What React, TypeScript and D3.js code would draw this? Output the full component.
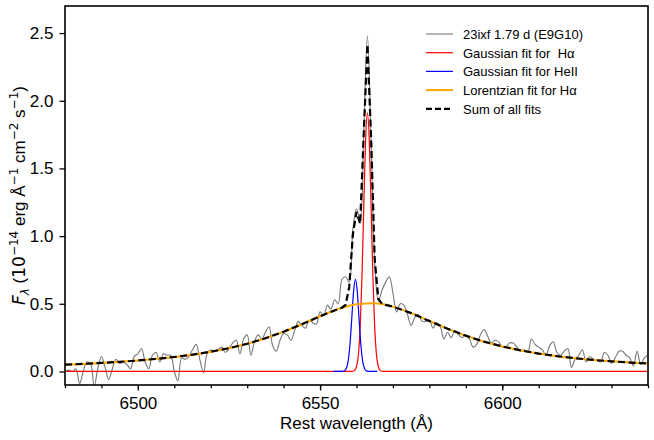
import { useEffect, useRef } from 'react';
import * as d3 from 'd3';

const WIDTH = 654;
const HEIGHT = 440;
const MARGIN = { top: 6, right: 6, bottom: 55, left: 65 };
const SANS = '"Liberation Sans", Arial, sans-serif';
const MATH = '"DejaVu Sans", sans-serif';

// observed spectrum, 1 Å bins starting at 6480 Å
const SPEC_START = 6480;
const specFlux = [
  0.0, 0.01, 0.0, 0.02, -0.09, 0.0, 0.07, 0.06, -0.11, 0.02,
  0.11, 0.03, -0.06, 0.02, 0.09, 0.06, 0.07, 0.05, 0.02, 0.11,
  0.13, 0.17, 0.07, 0.02, 0.12, 0.14, 0.07, 0.13, 0.12, 0.12,
  0.0, -0.07, 0.1, 0.09, 0.11, 0.16, 0.2, 0.09, -0.01, 0.13,
  0.16, 0.15, 0.16, 0.18, 0.14, 0.17, 0.21, 0.23, 0.13, 0.24,
  0.27, 0.12, 0.22, 0.27, 0.24, 0.29, 0.33, 0.19, 0.15, 0.23,
  0.28, 0.27, 0.23, 0.3, 0.37, 0.34, 0.32, 0.38, 0.36, 0.35,
  0.44, 0.41, 0.49, 0.46, 0.53, 0.5, 0.68, 0.7, 0.66, 1.05,
  1.2, 1.12, 1.78, 2.48, 1.7, 0.8, 0.52, 0.6, 0.66, 0.7,
  0.58, 0.44, 0.5, 0.49, 0.42, 0.34, 0.4, 0.42, 0.37, 0.37,
  0.38, 0.32, 0.36, 0.33, 0.24, 0.29, 0.25, 0.3, 0.27, 0.25,
  0.27, 0.24, 0.18, 0.2, 0.27, 0.31, 0.26, 0.21, 0.23, 0.22,
  0.18, 0.18, 0.21, 0.21, 0.18, 0.15, 0.16, 0.14, 0.24, 0.2,
  0.18, 0.16, 0.12, 0.19, 0.22, 0.14, 0.12, 0.15, 0.17, 0.03,
  0.09, 0.12, 0.16, 0.07, 0.11, 0.09, 0.08, 0.07, 0.14, 0.12,
  0.06, 0.1, 0.15, 0.15, 0.12, 0.1, 0.04, 0.15, 0.05, 0.1,
  0.12,
];
const specWave = specFlux.map((_, i) => SPEC_START + i);

// Lorentzian component (broad Hα)
const lorentzWave = [
  6480, 6485, 6490, 6495, 6500, 6505, 6510, 6515, 6520, 6525, 6530, 6535, 6540, 6545, 6550, 6555,
  6560, 6565, 6570, 6575, 6580, 6585, 6590, 6595, 6600, 6605, 6610, 6615, 6620, 6625, 6630, 6635, 6640,
];
const lorentzFlux = [
  0.05, 0.056, 0.063, 0.071, 0.081, 0.093, 0.107, 0.124, 0.146, 0.172, 0.205, 0.245, 0.294, 0.349, 0.408, 0.462,
  0.497, 0.504, 0.479, 0.431, 0.373, 0.315, 0.264, 0.22, 0.185, 0.156, 0.132, 0.113, 0.098, 0.085, 0.075, 0.066, 0.059,
];

// narrow Gaussian for Hα
const redWave = [
  6480, 6558, 6558.5, 6559, 6559.5, 6560, 6560.5, 6561, 6561.5, 6562, 6562.5, 6563,
  6563.5, 6564, 6564.5, 6565, 6565.5, 6566, 6566.5, 6567, 6567.5, 6568, 6640,
];
const redFlux = [
  0, 0, 0.0002, 0.0015, 0.0082, 0.0348, 0.118, 0.322, 0.701, 1.224, 1.71, 1.91,
  1.71, 1.224, 0.701, 0.322, 0.118, 0.0348, 0.0082, 0.0015, 0.0002, 0, 0,
];

// Gaussian for HeII
const blueWave = [
  6553.7, 6555.7, 6556.2, 6556.7, 6557.2, 6557.7, 6558.2, 6558.7, 6559.2, 6559.7,
  6560.2, 6560.7, 6561.2, 6561.7, 6562.2, 6562.7, 6563.2, 6563.7, 6565.7,
];
const blueFlux = [
  0, 0.0001, 0.0008, 0.0046, 0.0213, 0.074, 0.195, 0.391, 0.592, 0.68,
  0.592, 0.391, 0.195, 0.074, 0.0213, 0.0046, 0.0008, 0.0001, 0,
];

// sum of the three fits
const sumWave = [
  6480, 6485, 6490, 6495, 6500, 6505, 6510, 6515, 6520, 6525, 6530, 6535, 6540, 6545, 6550, 6555,
  6556, 6557, 6558, 6559, 6560, 6561, 6562, 6563, 6564, 6565, 6566, 6567, 6568,
  6570, 6575, 6580, 6585, 6590, 6595, 6600, 6605, 6610, 6615, 6620, 6625, 6630, 6635, 6640,
];
const sumFlux = [
  0.05, 0.056, 0.063, 0.071, 0.081, 0.093, 0.107, 0.124, 0.146, 0.172, 0.205, 0.245, 0.294, 0.349, 0.408, 0.462,
  0.471, 0.491, 0.623, 1.012, 1.179, 1.09, 1.764, 2.416, 1.729, 0.826, 0.536, 0.499, 0.492,
  0.479, 0.431, 0.373, 0.315, 0.264, 0.22, 0.185, 0.156, 0.132, 0.113, 0.098, 0.085, 0.075, 0.066, 0.059,
];

const xMajorTicks = [6500, 6550, 6600];
const xMinorTicks = [
  6480, 6490, 6500, 6510, 6520, 6530, 6540, 6550, 6560, 6570, 6580, 6590, 6600, 6610, 6620, 6630, 6640,
];
const yTicks = [0, 0.5, 1.0, 1.5, 2.0, 2.5];

const legendLabels = [
  '23ixf 1.79 d (E9G10)',
  'Gaussian fit for  Hα',
  'Gaussian fit for HeII',
  'Lorentzian fit for Hα',
  'Sum of all fits',
];
const legendStyles = [
  { color: '#777777', width: 1.1, dash: null },
  { color: 'red', width: 1.2, dash: null },
  { color: 'blue', width: 1.2, dash: null },
  { color: 'orange', width: 2, dash: null },
  { color: 'black', width: 2.2, dash: '6,3' },
];

type Pt = [number, number];
const zip = (xs: number[], ys: number[]): Pt[] => xs.map((v, i) => [v, ys[i]]);

export default function App() {
  const svgRef = useRef<SVGSVGElement>(null);

  useEffect(() => {
    document.body.style.margin = '0';
    if (!svgRef.current) return;
    const svg = d3.select(svgRef.current);
    svg.selectAll('*').remove();

    const innerWidth = WIDTH - MARGIN.left - MARGIN.right;
    const innerHeight = HEIGHT - MARGIN.top - MARGIN.bottom;

    const x = d3.scaleLinear().domain([6480, 6640]).range([0, innerWidth]);
    const y = d3.scaleLinear().domain([-0.1, 2.7]).range([innerHeight, 0]);

    svg
      .append('defs')
      .append('clipPath')
      .attr('id', 'plot-clip')
      .append('rect')
      .attr('width', innerWidth)
      .attr('height', innerHeight);

    const g = svg.append('g').attr('transform', `translate(${MARGIN.left},${MARGIN.top})`);
    const plot = g.append('g').attr('clip-path', 'url(#plot-clip)');

    const line = d3
      .line<Pt>()
      .x((d) => x(d[0]))
      .y((d) => y(d[1]));
    const smooth = d3
      .line<Pt>()
      .x((d) => x(d[0]))
      .y((d) => y(d[1]))
      .curve(d3.curveMonotoneX);
    const spectrumLine = d3
      .line<Pt>()
      .x((d) => x(d[0]))
      .y((d) => y(d[1]))
      .curve(d3.curveCatmullRom.alpha(0.5));

    plot
      .append('path')
      .datum(zip(specWave, specFlux))
      .attr('d', spectrumLine)
      .attr('fill', 'none')
      .attr('stroke', '#777777')
      .attr('stroke-width', 1.1)
      .attr('stroke-linejoin', 'round');

    plot
      .append('path')
      .datum(zip(redWave, redFlux))
      .attr('d', smooth)
      .attr('fill', 'none')
      .attr('stroke', 'red')
      .attr('stroke-width', 1.2);

    plot
      .append('path')
      .datum(zip(blueWave, blueFlux))
      .attr('d', smooth)
      .attr('fill', 'none')
      .attr('stroke', 'blue')
      .attr('stroke-width', 1.2);

    plot
      .append('path')
      .datum(zip(lorentzWave, lorentzFlux))
      .attr('d', smooth)
      .attr('fill', 'none')
      .attr('stroke', 'orange')
      .attr('stroke-width', 2);

    plot
      .append('path')
      .datum(zip(sumWave, sumFlux))
      .attr('d', line)
      .attr('fill', 'none')
      .attr('stroke', 'black')
      .attr('stroke-width', 2.2)
      .attr('stroke-dasharray', '7,3.5');

    // axes
    const minor = g
      .append('g')
      .attr('transform', `translate(0,${innerHeight})`)
      .call(d3.axisBottom(x).tickValues(xMinorTicks).tickSize(3.2).tickFormat(() => ''));
    minor.select('.domain').remove();

    const xAxis = g
      .append('g')
      .attr('transform', `translate(0,${innerHeight})`)
      .call(
        d3
          .axisBottom(x)
          .tickValues(xMajorTicks)
          .tickSize(5.5)
          .tickPadding(6)
          .tickFormat((v) => d3.format('d')(Number(v)))
      );
    const yAxis = g.append('g').call(
      d3
        .axisLeft(y)
        .tickValues(yTicks)
        .tickSize(5.5)
        .tickPadding(6)
        .tickFormat((v) => d3.format('.1f')(Number(v)))
    );
    [xAxis, yAxis].forEach((a) => {
      a.select('.domain').remove();
      a.selectAll('text').attr('font-family', SANS).attr('font-size', 17).attr('fill', 'black');
    });
    g.selectAll('.tick line').attr('stroke', 'black').attr('stroke-width', 1.3);

    g.append('rect')
      .attr('width', innerWidth)
      .attr('height', innerHeight)
      .attr('fill', 'none')
      .attr('stroke', 'black')
      .attr('stroke-width', 1.6);

    // axis labels
    svg
      .append('text')
      .attr('x', MARGIN.left + innerWidth / 2)
      .attr('y', 429)
      .attr('text-anchor', 'middle')
      .attr('font-family', SANS)
      .attr('font-size', 17)
      .text('Rest wavelength (Å)');

    const ylab = svg
      .append('text')
      .attr('transform', `translate(25,${MARGIN.top + innerHeight / 2}) rotate(-90)`)
      .attr('text-anchor', 'middle')
      .attr('font-family', SANS)
      .attr('font-size', 17);
    const parts: { t: string; math?: boolean; italic?: boolean; small?: boolean; dy?: number }[] = [
      { t: 'F', math: true, italic: true },
      { t: 'λ', math: true, italic: true, small: true, dy: 4 },
      { t: ' (', dy: -4 },
      { t: '10', math: true },
      { t: '−14', math: true, small: true, dy: -7 },
      { t: ' erg Å', dy: 7 },
      { t: '−1', math: true, small: true, dy: -7 },
      { t: ' cm', dy: 7 },
      { t: '−2', math: true, small: true, dy: -7 },
      { t: ' s', dy: 7 },
      { t: '−1', math: true, small: true, dy: -7 },
      { t: ')', dy: 7 },
    ];
    parts.forEach((p) => {
      const ts = ylab.append('tspan').style('white-space', 'pre').text(p.t);
      if (p.math) ts.attr('font-family', MATH);
      if (p.italic) ts.attr('font-style', 'italic');
      if (p.small) ts.attr('font-size', 12);
      if (p.dy) ts.attr('dy', p.dy);
    });

    // legend
    const legend = svg.append('g');
    legendLabels.forEach((label, i) => {
      const st = legendStyles[i];
      const ly = 34 + i * 18.7;
      legend
        .append('line')
        .attr('x1', 426)
        .attr('x2', 453)
        .attr('y1', ly)
        .attr('y2', ly)
        .attr('stroke', st.color)
        .attr('stroke-width', st.width)
        .attr('stroke-dasharray', st.dash ?? null);
      legend
        .append('text')
        .attr('x', 463)
        .attr('y', ly + 5)
        .attr('font-family', SANS)
        .attr('font-size', 13)
        .style('white-space', 'pre')
        .text(label);
    });
  }, []);

  return (
    <svg
      ref={svgRef}
      width={WIDTH}
      height={HEIGHT}
      style={{ position: 'absolute', left: 0, top: 0, background: 'white' }}
    />
  );
}
